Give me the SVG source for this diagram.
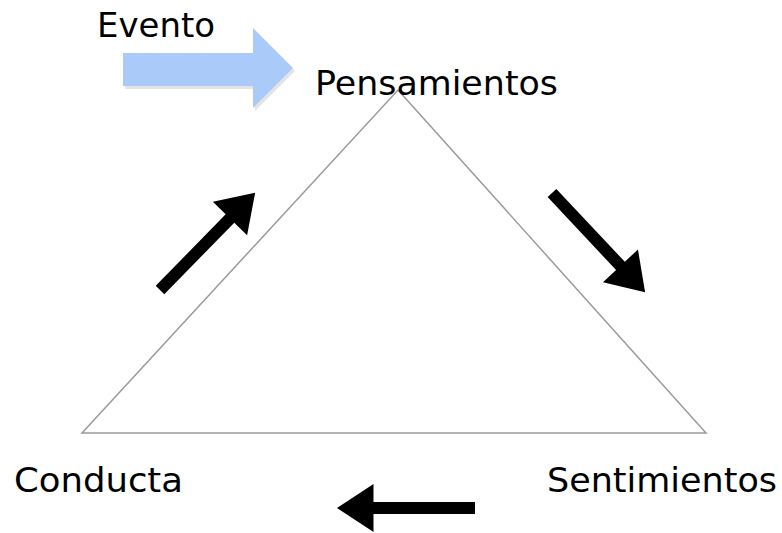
<svg xmlns="http://www.w3.org/2000/svg" width="782" height="533" viewBox="0 0 782 533">
<style>
.lbl{font-family:"DejaVu Sans","Liberation Sans",sans-serif;font-size:34px;fill:#000;}
.edge{stroke:#9a9a9a;stroke-width:1.5;fill:none;}
.blk{fill:#000;}
</style>
<defs>
<polygon id="arr" points="0,-6 100,-6 100,-24 136,0 100,24 100,6 0,6"/>
</defs>
<rect width="782" height="533" fill="#fff"/>
<g id="connectors">
<polygon class="edge" points="398,90 706,433 82,433"/>
<polygon points="125,56 255,56 255,31 295,71 255,111 255,89 125,89" fill="#d0d0d0" opacity="0.6"/>
<polygon points="123,53 253,53 253,28 293,68 253,108 253,86 123,86" fill="#aacbfa"/>
<use href="#arr" class="blk" transform="translate(160,290) rotate(-45.6)"/>
<use href="#arr" class="blk" transform="translate(552,193) rotate(46.8)"/>
<use href="#arr" class="blk" transform="translate(475,508) rotate(180) scale(1.015,1)"/>
</g>
<g id="evento"><text class="lbl" x="97" y="37" textLength="118" lengthAdjust="spacingAndGlyphs">Evento</text></g>
<g id="pensamientos"><text class="lbl" x="315" y="95" textLength="243" lengthAdjust="spacingAndGlyphs">Pensamientos</text></g>
<g id="conducta"><text class="lbl" x="14" y="492" textLength="169" lengthAdjust="spacingAndGlyphs">Conducta</text></g>
<g id="sentimientos"><text class="lbl" x="547" y="492" textLength="230" lengthAdjust="spacingAndGlyphs">Sentimientos</text></g>
</svg>
